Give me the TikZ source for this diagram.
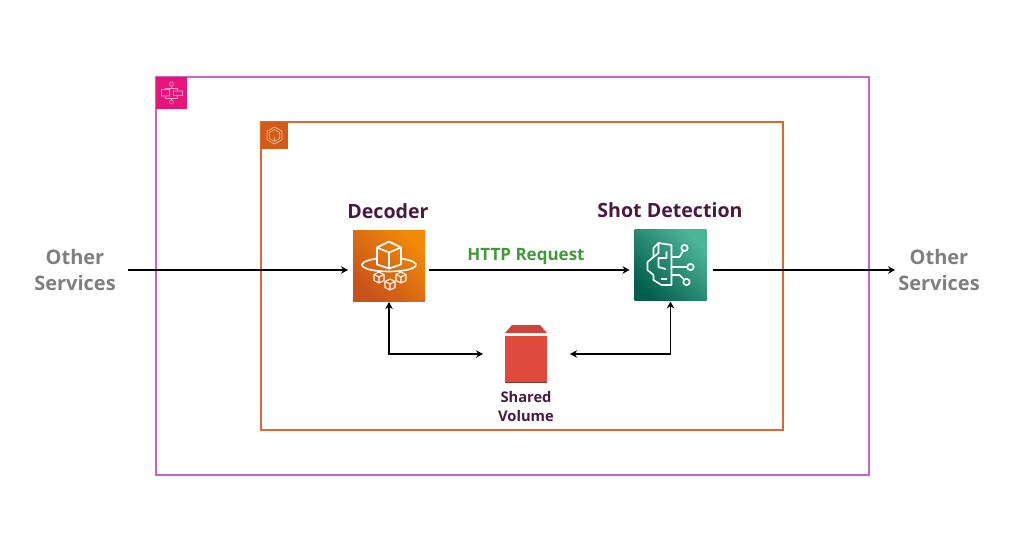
\documentclass[tikz,border=0pt]{standalone}
\usepackage{fontspec}
\setmainfont{Open Sans}
\usetikzlibrary{arrows.meta}
\definecolor{stepline}{HTML}{CC62C6}
\definecolor{contline}{HTML}{E0672F}
\definecolor{titlecol}{HTML}{4A1942}
\definecolor{greycol}{HTML}{7F7F7F}
\definecolor{httpcol}{HTML}{3F9C35}
\definecolor{volcol}{HTML}{DF4A3D}
\definecolor{voldark}{HTML}{8C3A30}
\definecolor{vollid}{HTML}{C8463A}
\definecolor{stepfill}{HTML}{E7157B}
\definecolor{contfill}{HTML}{D45B14}
\definecolor{declow}{HTML}{C8511C}
\definecolor{dechigh}{HTML}{F28A08}
\definecolor{shotlow}{HTML}{055F4E}
\definecolor{shothigh}{HTML}{4DB597}
\tikzstyle{frame}=[draw,line width=1.5pt,fill=none]
\tikzstyle{badge}=[minimum size=0pt,inner sep=0pt,outer sep=0pt]
\tikzstyle{iconbox}=[minimum width=72pt,minimum height=71pt,inner sep=0pt,outer sep=0pt]
\tikzstyle{title}=[text=titlecol,font=\bfseries\fontsize{19.6}{24}\selectfont]
\tikzstyle{other}=[text=greycol,align=center,inner sep=0pt,font=\bfseries\fontsize{20}{26}\selectfont]
\tikzstyle{conn}=[line width=1.5pt,-{Stealth[length=7pt,width=7.5pt]}]
\tikzstyle{both}=[line width=1.5pt,{Stealth[length=7pt,width=7.5pt]}-{Stealth[length=7pt,width=7.5pt]}]
\tikzstyle{glyph}=[draw=white,line width=1.6pt,line join=round,line cap=round,fill=none]
\tikzstyle{thinglyph}=[draw=white,draw opacity=.6,line width=.6pt,fill=none]
\begin{document}
\begin{tikzpicture}[x=1pt,y=-1pt]
    \useasboundingbox (0,0) rectangle (1021,546);
    \draw[frame,stepline] (156,77) rectangle (869,475);
    \draw[frame,contline] (261,122) rectangle (783,430);
    \node[badge,fill=stepfill,minimum width=31.5pt,minimum height=32pt] (stepbadge) at (171.5,93) {};
    \node[badge,fill=contfill,minimum width=27pt,minimum height=27pt] (contbadge) at (274.5,135.5) {};

    \node[iconbox,bottom color=declow,top color=dechigh,shading angle=-45] (decoder) at (389,265.5) {};
    \node[iconbox,bottom color=shotlow,top color=shothigh,shading angle=-45] (shot) at (670.5,265) {};
    \node[badge,fill=volcol,minimum width=42pt,minimum height=47pt] (volume) at (526,359.5) {};
    \fill[voldark] (505,381.5) rectangle (547,383);
    \fill[vollid] (505,333) -- (512,325) -- (540,325) -- (547,333) -- cycle;

    \node[title] (decodertxt) at (388,211) {Decoder};
    \node[title] (shottxt) at (670,210) {Shot Detection};
    \node[text=httpcol,font=\bfseries\fontsize{17}{20}\selectfont] (httptxt) at (526,256) {HTTP Request};
    \node[text=titlecol,align=center,font=\bfseries\fontsize{14.7}{19}\selectfont] (voltxt) at (526,406.5) {Shared\\Volume};
    \node[other] (othersl) at (75,270) {Other\\Services};
    \node[other] (othersr) at (939,270) {Other\\Services};

    \coordinate (voll) at (483,354);
    \coordinate (volr) at (570,354);
    \draw[conn,shorten <=12pt,shorten >=5pt] (othersl.east) -- (othersl.east -| decoder.west);
    \draw[conn,shorten <=4pt,shorten >=5pt] (othersl -| decoder.east) -- (othersl -| shot.west);
    \draw[conn,shorten <=6pt,shorten >=3pt] (othersr -| shot.east) -- (othersr.west);
    \draw[both,shorten <=1pt] (decoder.south) |- (voll);
    \draw[both,shorten <=1pt] (shot.south) |- (volr);

    \begin{scope}[shift={(decoder.center)}]
        \draw[glyph] (-12,-18) -- (0,-24) -- (12,-18) -- (0,-13) -- cycle;
        \draw[glyph] (-12,-18) -- (-12,-1) -- (0,3) -- (12,-1) -- (12,-18) (0,-13) -- (0,3);
        \draw[glyph] (-12,-7) .. controls (-38,-3) and (-28,6) .. (0,6) .. controls (28,6) and (38,-3) .. (12,-7);
        \foreach \cx/\cy in {-10/12,1/19,12/12} {
            \draw[glyph,line width=1.1pt,shift={(\cx,\cy)}] (-5,-3) -- (0,-5.5) -- (5,-3) -- (5,3) -- (0,5.5) -- (-5,3) -- cycle (-5,-3) -- (0,-.5) -- (5,-3) (0,-.5) -- (0,5.5);
        }
    \end{scope}

    \begin{scope}[shift={(shot.center)}]
        \draw[glyph] (1,-20) -- (-12,-22) -- (-17,-17) -- (-17,-8) -- (-23,-3) -- (-23,5) -- (-17,10) -- (-17,15) -- (-9,20) -- (1,20) -- cycle;
        \draw[glyph] (-12,-22) -- (-12,-12) -- (-17,-8);
        \draw[glyph] (-4,-13) -- (-4,-7) -- (-12,-7) -- (-12,2) -- (-5,4);
        \draw[glyph] (-9,14) -- (-4,14);
        \draw[glyph] (1,-8) -- (9,-8) -- (13,-15);
        \draw[glyph] (1,2) -- (16,2);
        \draw[glyph] (1,10) -- (9,10) -- (14,15);
        \draw[glyph] (14,-17) circle (3.2pt) (20,2) circle (3.2pt) (16,17) circle (3.2pt);
    \end{scope}

    \begin{scope}[shift={(stepbadge.center)}]
        \draw[thinglyph] (0,-9) circle (2pt) (0,9) circle (2pt) (-10,-3.5) rectangle (-2,3) (2,-2) rectangle (11,2.5);
        \draw[thinglyph] (0,-7) -- (0,-5) (-6,-3.5) -- (-6,-5) -- (6,-5) -- (6,-2) (-6,3) -- (-6,5.5) -- (6,5.5) -- (6,2.5) (0,5.5) -- (0,7);
    \end{scope}

    \begin{scope}[shift={(contbadge.center)}]
        \draw[thinglyph,line width=.7pt] (0,-8.5) -- (7.5,-4.2) -- (7.5,4.2) -- (0,8.5) -- (-7.5,4.2) -- (-7.5,-4.2) -- cycle;
        \draw[thinglyph] (0,-6) -- (5.2,-3) -- (5.2,3) -- (0,6) -- (-5.2,3) -- (-5.2,-3) -- cycle (0,2) -- (0,6);
    \end{scope}
\end{tikzpicture}
\end{document}
